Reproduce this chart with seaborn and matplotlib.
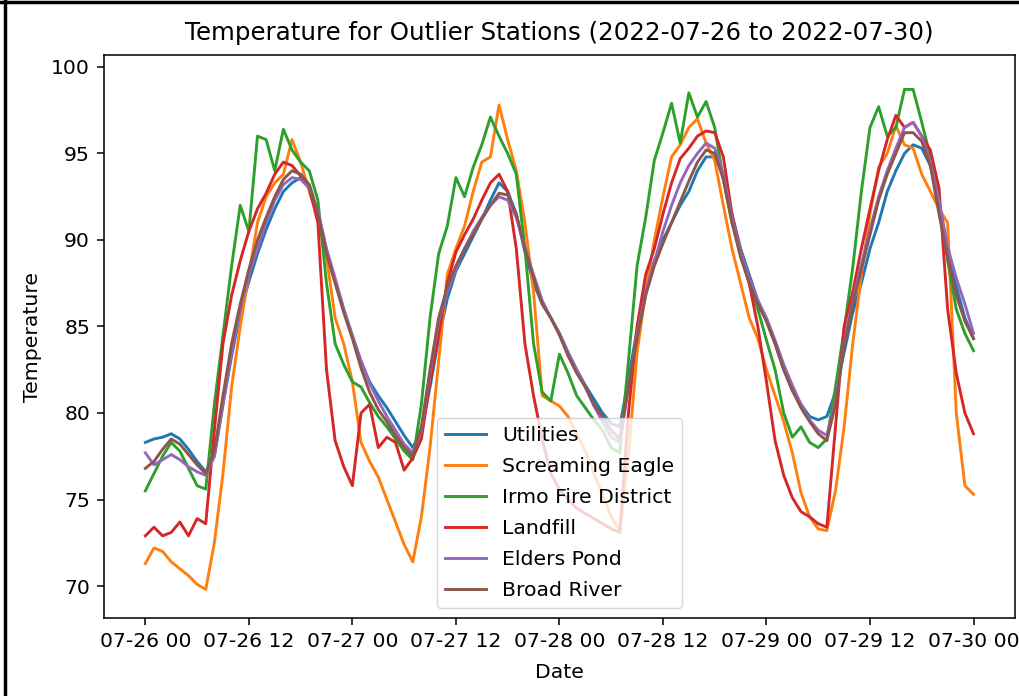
import numpy as np
import pandas as pd
import matplotlib
matplotlib.use("Agg")
import matplotlib.pyplot as plt
import matplotlib.dates as mdates
from matplotlib.lines import Line2D
import seaborn as sns

stations = ["Utilities", "Screaming Eagle", "Irmo Fire District", "Landfill", "Elders Pond", "Broad River"]

utilities = [78.3, 78.5, 78.6, 78.8, 78.5, 77.9, 77.2, 76.6, 77.5,
             80.5, 83.3, 85.8, 87.6, 89.2, 90.6, 91.8, 92.8,
             93.3, 93.6, 93.2, 91.6, 89.4, 87.6, 86.0, 84.4,
             83.0, 81.8, 81.0, 80.3, 79.5, 78.7, 78.0, 79.0,
             81.5, 84.3, 86.6, 88.2, 89.2, 90.2, 91.2, 92.3,
             93.3, 92.8, 91.5, 89.3, 87.5, 86.3, 85.5, 84.6,
             83.5, 82.5, 81.6, 80.8, 80.0, 79.4, 79.2, 82.0,
             84.8, 87.2, 88.8, 90.0, 91.0, 92.0, 92.8, 94.0,
             94.8, 94.8, 93.8, 91.5, 89.5, 88.0, 86.5, 85.3,
             84.0, 82.5, 81.3, 80.5, 79.8, 79.6, 79.8, 81.2,
             83.5, 85.8, 87.5, 89.5, 91.0, 92.8, 94.0, 95.0,
             95.5, 95.3, 94.3, 92.0, 89.5, 87.3, 85.5, 84.3]

screaming_eagle = [71.3, 72.2, 72.0, 71.4, 71.0, 70.6, 70.1, 69.8, 72.5,
                   76.5, 81.5, 85.0, 88.0, 91.0, 92.5, 93.3, 93.8,
                   95.8, 94.5, 92.8, 91.3, 89.0, 85.5, 84.0, 81.8,
                   78.3, 77.2, 76.3, 75.0, 73.7, 72.4, 71.4, 74.0,
                   78.0, 83.0, 88.0, 89.5, 90.8, 92.8, 94.5, 94.8,
                   97.8, 95.8, 94.0, 91.0, 87.0, 81.0, 80.7, 80.4,
                   79.8, 78.8, 77.8, 76.5, 75.3, 74.0, 73.2, 77.5,
                   83.5, 87.0, 90.0, 92.5, 94.8, 95.5, 96.5, 97.0,
                   95.6, 94.6, 92.0, 89.5, 87.5, 85.5, 84.3, 82.5,
                   81.0, 79.5, 77.7, 75.4, 74.0, 73.3, 73.2, 75.5,
                   79.2, 84.0, 88.0, 91.5, 94.2, 95.0, 96.6, 95.5,
                   95.3, 93.8, 92.8, 91.8, 91.0, 80.0, 75.8, 75.3]

irmo = [75.5, 76.5, 77.5, 78.3, 77.8, 76.8, 75.8, 75.6, 80.5,
        84.5, 88.5, 92.0, 90.5, 96.0, 95.8, 94.0, 96.4,
        95.2, 94.5, 94.0, 92.3, 87.5, 84.0, 82.8, 81.8,
        81.5, 80.6, 79.8, 79.2, 78.5, 77.8, 77.3, 80.5,
        85.5, 89.2, 90.8, 93.6, 92.5, 94.2, 95.5, 97.1,
        96.0, 95.0, 93.8, 89.5, 84.0, 81.2, 80.7, 83.4,
        82.3, 81.0, 80.3, 79.6, 79.0, 78.0, 77.7, 83.0,
        88.5, 91.3, 94.6, 96.2, 97.9, 95.6, 98.5, 97.1,
        98.0, 96.5, 93.5, 91.0, 89.5, 87.5, 86.0, 84.2,
        82.5, 80.0, 78.6, 79.2, 78.3, 78.0, 78.5, 81.5,
        84.8, 88.4, 92.8, 96.5, 97.7, 96.0, 96.5, 98.7,
        98.7, 96.8, 94.8, 92.3, 88.8, 86.0, 84.6, 83.6]

landfill = [72.9, 73.4, 72.9, 73.1, 73.7, 72.9, 73.9, 73.6, 79.0,
            84.0, 86.8, 88.8, 90.5, 91.8, 92.7, 93.8, 94.5,
            94.3, 93.7, 93.0, 91.0, 82.5, 78.4, 76.9, 75.8,
            80.0, 80.5, 78.0, 78.6, 78.3, 76.7, 77.4, 78.5,
            81.8, 84.5, 87.5, 89.3, 90.3, 91.2, 92.3, 93.3,
            93.8, 92.8, 89.5, 84.0, 81.0, 78.5, 76.5, 75.6,
            75.0, 74.5, 74.2, 73.9, 73.6, 73.3, 73.1, 80.0,
            85.0, 88.0, 89.5, 91.5, 93.3, 94.7, 95.3, 96.0,
            96.3, 96.2, 94.8, 91.5, 89.3, 87.5, 85.0, 81.8,
            78.4, 76.4, 75.1, 74.3, 74.0, 73.6, 73.4, 79.2,
            85.0, 87.0, 89.5, 91.8, 94.0, 95.8, 97.2, 96.5,
            96.8, 96.0, 95.2, 93.0, 86.0, 82.3, 80.0, 78.8]

elders_pond = [77.7, 77.0, 77.3, 77.6, 77.3, 76.9, 76.6, 76.4, 77.5,
               80.5, 83.5, 86.0, 88.0, 89.5, 91.0, 92.3, 93.2,
               93.6, 93.5, 93.0, 91.7, 89.5, 87.8, 86.0, 84.5,
               83.0, 81.7, 80.7, 79.8, 79.0, 78.2, 77.7, 79.0,
               82.3, 85.3, 87.0, 88.3, 89.5, 90.5, 91.3, 92.0,
               92.5, 92.3, 91.3, 89.6, 88.0, 86.5, 85.5, 84.6,
               83.5, 82.5, 81.5, 80.4, 79.5, 78.6, 78.3, 81.5,
               84.5, 87.0, 88.7, 90.5, 92.0, 93.3, 94.3, 95.0,
               95.6, 95.3, 93.8, 91.3, 89.3, 87.8, 86.5, 85.5,
               84.2, 82.8, 81.6, 80.5, 79.6, 79.0, 78.7, 80.7,
               84.0, 86.5, 88.6, 90.6, 92.5, 94.0, 95.3, 96.5,
               96.8, 96.0, 94.5, 92.3, 89.6, 87.8, 86.3, 84.6]

broad_river = [76.8, 77.2, 77.9, 78.5, 78.2, 77.6, 77.0, 76.5, 77.8,
               81.0, 84.0, 86.3, 88.3, 90.0, 91.3, 92.5, 93.5,
               94.0, 93.8, 93.2, 91.5, 89.2, 87.5, 85.8, 84.3,
               82.6, 81.2, 80.2, 79.5, 78.7, 78.0, 77.5, 79.2,
               82.5, 85.5, 87.3, 88.5, 89.5, 90.3, 91.2, 92.0,
               92.7, 92.6, 91.5, 89.5, 87.8, 86.3, 85.5, 84.5,
               83.3, 82.3, 81.5, 80.5, 79.8, 79.0, 78.5, 81.5,
               84.3, 86.8, 88.5, 89.8, 91.0, 92.2, 93.4, 94.5,
               95.2, 95.0, 93.5, 91.0, 89.0, 87.5, 86.3, 85.3,
               84.0, 82.5, 81.3, 80.3, 79.5, 78.8, 78.4, 80.5,
               83.8, 86.3, 88.3, 90.3, 92.3, 93.8, 95.0, 96.2,
               96.2, 95.7, 94.3, 91.5, 89.0, 86.8, 85.3, 84.3]

series = [utilities, screaming_eagle, irmo, landfill, elders_pond, broad_river]
times = pd.date_range("2022-07-26 00:00", periods=len(utilities), freq="h")

df = pd.concat([pd.DataFrame({"Date": times, "Temperature": vals, "Station": name})
                for name, vals in zip(stations, series)], ignore_index=True)

S = 1.39    # line / tick scale
T = 1.47    # text scale
plt.rcParams["font.family"] = ["DejaVu Sans"]
fig = plt.figure(figsize=(10.19, 6.96), dpi=100)
ax = fig.add_axes([0.102, 0.112, 0.894, 0.809])

palette = sns.color_palette("tab10", 6)
sns.lineplot(data=df, x="Date", y="Temperature", hue="Station", hue_order=stations,
             palette=palette, linewidth=1.5 * S, ax=ax)

ax.set_ylim(68.15, 100.69)
ax.set_yticks([70, 75, 80, 85, 90, 95, 100])
ax.xaxis.set_major_locator(mdates.HourLocator(byhour=[0, 12]))
ax.xaxis.set_major_formatter(mdates.DateFormatter("%m-%d %H"))
ax.tick_params(labelsize=10 * T, length=3.5 * S, width=0.8 * S, pad=3.5 * T)
for sp in ax.spines.values():
    sp.set_linewidth(0.8 * S)
ax.set_xlabel("Date", fontsize=10 * T, labelpad=4 * T + 3)
ax.set_ylabel("Temperature", fontsize=10 * T, labelpad=4 * T + 1)
ax.set_title("Temperature for Outlier Stations (2022-07-26 to 2022-07-30)", fontsize=12 * T, pad=6 * T + 2.2)

handles, labels = ax.get_legend_handles_labels()
ax.legend(handles, labels, loc="lower center", fontsize=10 * T, labelspacing=0.58)

fig.add_artist(Line2D([0.0045, 0.0045], [0, 1], color="black", lw=2.5, transform=fig.transFigure))
fig.add_artist(Line2D([0, 1], [0.997, 0.997], color="black", lw=2.5, transform=fig.transFigure))

fig.savefig("out.png", dpi=100)
